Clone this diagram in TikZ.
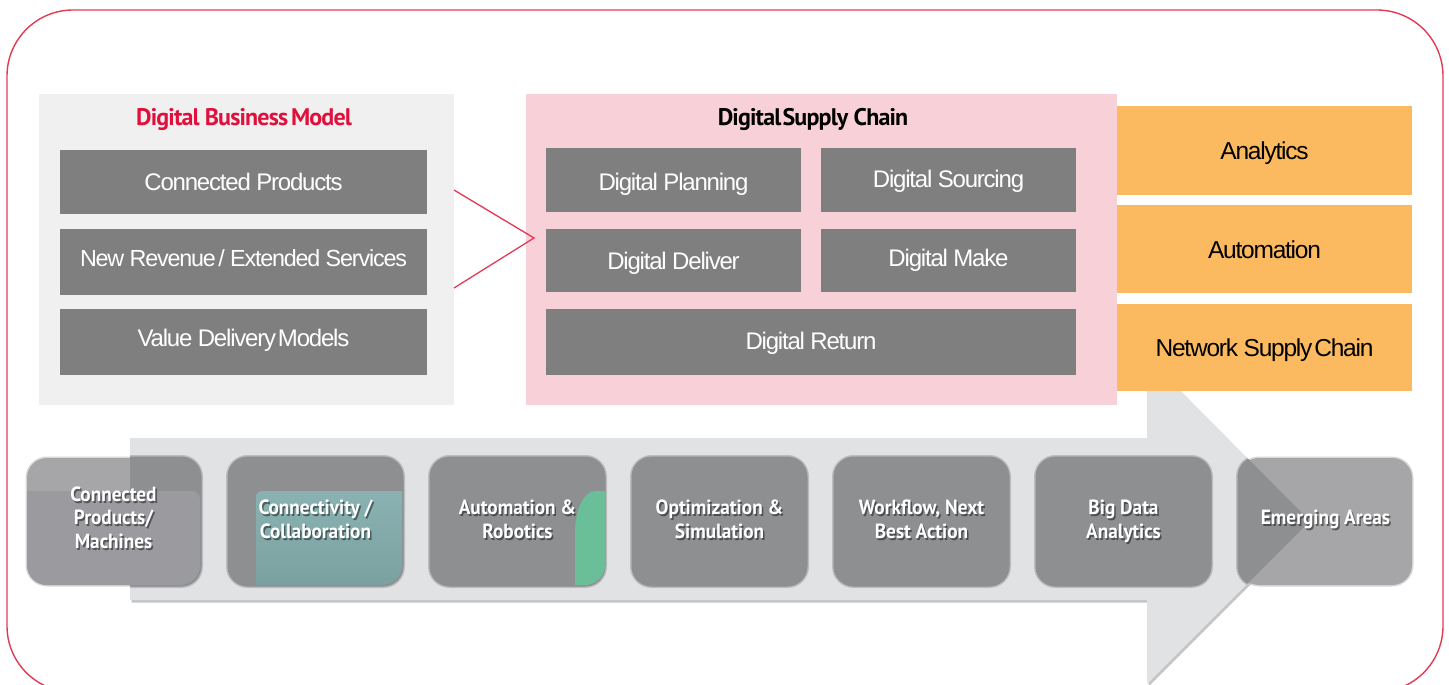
\documentclass[tikz,border=0pt]{standalone}
\usepackage{fontspec}
\setmainfont{Liberation Sans}
\newfontfamily\boxfont{Liberation Sans}[LetterSpace=-5]
\newfontfamily\titlefont{PT Sans}[LetterSpace=-3.5]
\newfontfamily\stepfont{PT Sans}[FakeStretch=0.94]
\newcommand\bxt[2]{\raisebox{-#1pt}[0pt][0pt]{#2}}
\definecolor{framered}{HTML}{E23A55}
\definecolor{titlered}{HTML}{E0103C}
\definecolor{panelgray}{HTML}{F0F0F0}
\definecolor{boxgray}{HTML}{7F7F7F}
\definecolor{panelpink}{HTML}{F8D0D7}
\definecolor{orangebox}{HTML}{FBB960}
\definecolor{arrowgray}{HTML}{E1E2E4}
\definecolor{arrowshade}{HTML}{C4C5C7}
\definecolor{stepout}{HTML}{A6A6A8}
\definecolor{stepin}{HTML}{8E8F91}
\definecolor{steplow}{HTML}{9B9B9F}
\definecolor{tealpanel}{HTML}{85AEAE}
\definecolor{greenpanel}{HTML}{6BBF98}
\tikzset{
  dbox/.style={fill=boxgray, text=white, inner sep=0pt,
    font=\boxfont\fontsize{24}{28}\selectfont},
  obox/.style={fill=orangebox, text=black, inner sep=0pt,
    minimum width=295pt, font=\boxfont\fontsize{24.5}{28}\selectfont},
  paneltitle/.style={font=\titlefont\bfseries\fontsize{24}{28}\selectfont, inner sep=0pt, anchor=base},
  stepbox/.style={fill=stepout, draw=stepout, draw opacity=0.45, line width=3pt,
    rounded corners=20pt, minimum width=173pt, minimum height=127pt, inner sep=0pt},
  steptext/.style={text=white, align=center, inner sep=0pt,
    font=\stepfont\bfseries\fontsize{20.5}{23.5}\selectfont},
  stepshadow/.style={steptext, text=black, text opacity=0.45},
  arrowshape/.style={insert path={(130,438) -- (1147,438) -- (1147,357) -- (1310,521)
    -- (1147,684) -- (1147,600) -- (130,600) -- cycle}},
  redline/.style={draw=framered, line width=1.3pt}
}
\begin{document}
\begin{tikzpicture}[x=1pt,y=-1pt]
\useasboundingbox (0,0) rectangle (1449,685);
% outer frame
\draw[framered, line width=1.4pt, rounded corners=66pt] (7,10) rectangle (1443,692);
% big arrow
\fill[arrowshade, shift={(1.5,2.5)}, arrowshape];
\fill[arrowgray, arrowshape];
% left panel
\fill[panelgray] (39,94) rectangle (454,405);
\node[paneltitle, text=titlered] (dbmtitle) at (244,125) {Digital Business\hspace{-0.1em} Model};
\node[dbox, minimum width=367pt, minimum height=64pt] (cp) at (243.5,182) {\bxt{8}{Connected Products}};
\node[dbox, minimum width=367pt, minimum height=66pt] (nr) at (243.5,262) {\bxt{4}{\fontsize{23.3}{28}\selectfont New Revenue\hspace{-0.12em} / Extended Services}};
\node[dbox, minimum width=367pt, minimum height=66pt] (vd) at (243.5,342) {\bxt{4}{Value Delivery\hspace{-0.15em} Models}};
% pink panel
\fill[panelpink] (526,94) rectangle (1117,405);
\node[paneltitle, text=black] (dsctitle) at (813,125) {Digital\hspace{0.05em}Supply Chain};
\node[dbox, minimum width=255pt, minimum height=64pt] (plan) at (673.5,180) {\bxt{10.7}{Digital Planning}};
\node[dbox, minimum width=255pt, minimum height=64pt] (src) at (948.5,180) {\bxt{7.3}{Digital Sourcing}};
\node[dbox, minimum width=255pt, minimum height=63pt] (del) at (673.5,260.5) {\bxt{8.8}{Digital Deliver}};
\node[dbox, minimum width=255pt, minimum height=63pt] (make) at (948.5,260.5) {\bxt{5.5}{Digital Make}};
\node[dbox, minimum width=530pt, minimum height=66pt] (ret) at (811,342) {\bxt{7.3}{Digital Return}};
% connector
\coordinate (c1) at (454,190);
\coordinate (c2) at (534,238);
\coordinate (c3) at (454,288);
\draw[redline] (c1) -- (c2) -- (c3);
% orange boxes
\node[obox, minimum height=89pt] (ana) at (1264.5,150.5) {\bxt{8.8}{Analytics}};
\node[obox, minimum height=88pt] (aut) at (1264.5,249) {\bxt{9.3}{Automation}};
\node[obox, minimum height=87pt] (nsc) at (1264.5,347.5) {\bxt{8.5}{Network Supply\hspace{-0.15em} Chain}};
% step boxes
\node[stepbox] (b1) at (113.5,521.5) {};
\node[stepbox] (b2) at (315.5,521.5) {};
\node[stepbox] (b3) at (517.5,521.5) {};
\node[stepbox] (b4) at (719.5,521.5) {};
\node[stepbox] (b5) at (921.5,521.5) {};
\node[stepbox] (b6) at (1123.5,521.5) {};
\node[stepbox] (b7) at (1325.5,521.5) {};
\begin{scope}
  \clip[arrowshape];
  \foreach \b in {b1,b2,b3,b4,b5,b6,b7}{
    \draw[fill=stepin, draw=stepin, draw opacity=0.45, line width=3pt, rounded corners=20pt]
      (\b.south west) rectangle (\b.north east);
  }
\end{scope}
% coloured lower panels
\fill[steplow] (27,491) -- (192,491) arc[start angle=-90, end angle=0, radius=8]
  -- (200,565) arc[start angle=0, end angle=90, radius=20]
  -- (47,585) arc[start angle=90, end angle=180, radius=20] -- cycle;
\shade[top color=tealpanel!95!white, bottom color=tealpanel!92!black]
  (256,585) -- (256,497) arc[start angle=180, end angle=270, radius=6]
  -- (402,491) -- (402,565) arc[start angle=0, end angle=90, radius=20] -- cycle;
\fill[greenpanel] (575,585) -- (575,533) arc[start angle=180, end angle=270, x radius=20, y radius=42]
  -- (605,491) -- (605,565) arc[start angle=0, end angle=90, radius=20] -- cycle;
% step texts
\foreach \b/\t/\dy in {b1/{Connected\\Products/\\Machines}/-4,
  b2/{Connectivity /\\Collaboration}/-2,
  b3/{Automation \&\\Robotics}/-2,
  b4/{Optimization \&\\Simulation}/-2,
  b5/{Workflow, Next\\Best Action}/-2,
  b6/{Big Data\\Analytics}/0,
  b7/{Emerging Areas}/-2}{
  \node[stepshadow] (\b s) at ([shift={(1.5,2)}]\b.center) [yshift=-\dy pt] {\t};
  \node[steptext] (\b t) at (\b.center) [yshift=-\dy pt] {\t};
}
\end{tikzpicture}
\end{document}
